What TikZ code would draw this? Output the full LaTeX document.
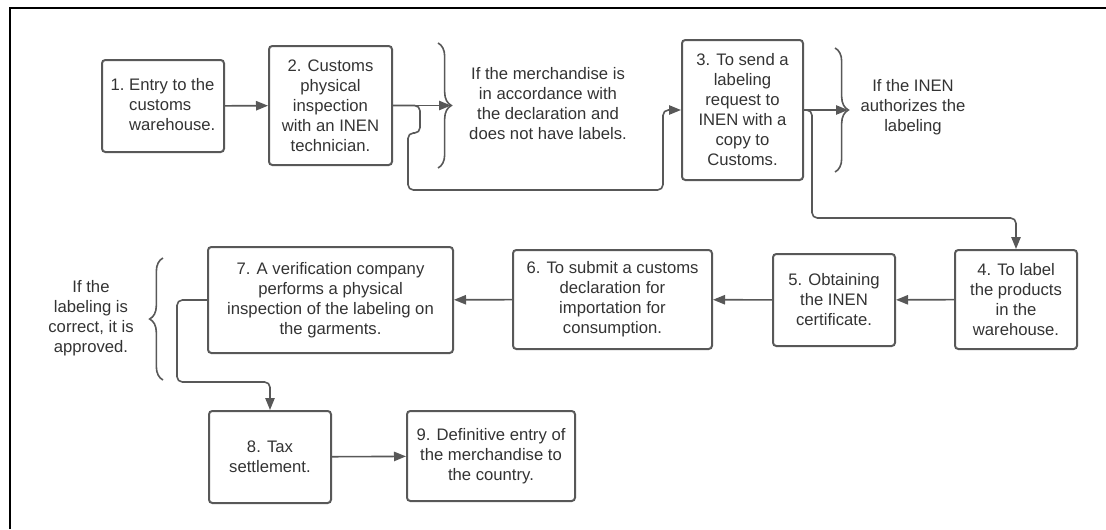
\documentclass[tikz,border=0pt]{standalone}
\usepackage{fontspec}
\setmainfont{Liberation Sans}
\usetikzlibrary{arrows.meta,decorations.pathreplacing}
\definecolor{boxcol}{RGB}{88,88,88}
\definecolor{txtcol}{RGB}{51,51,51}
\tikzset{box/.style={draw=boxcol,line width=1.5pt,rounded corners=2.5pt,align=center,inner sep=0pt,text=txtcol,font=\fontsize{12.5}{15}\selectfont}}
\tikzset{conn/.style={draw=boxcol,line width=1.2pt,rounded corners=4pt,-{Triangle[length=9pt,width=7pt]}}}
\tikzset{annot/.style={align=center,text=txtcol,font=\fontsize{12.5}{15}\selectfont}}
\tikzset{curly/.style={draw=boxcol,line width=1.2pt,decorate,decoration={brace,amplitude=10pt}}}

\begin{document}
\begin{tikzpicture}[x=0.75pt,y=-0.75pt]
\useasboundingbox (0,0) rectangle (1106,529);
\draw [line width=1.5pt] (10,529) -- (10,8) -- (1106,8);
% top row
\node [box,minimum width=91.5pt,minimum height=69pt] (b1) at (163,106) {\begin{tabular}{@{}l@{\ }l@{}}1.&Entry to the\\&customs\\&warehouse.\end{tabular}};
\node [box,minimum width=92.25pt,minimum height=89.25pt] (b2) at (330.5,105.5) {2. Customs\\physical\\inspection\\with an INEN\\technician.};
\node [box,minimum width=90.75pt,minimum height=105pt] (b3) at (742.5,110) {3. To send a\\labeling\\request to\\INEN with a\\copy to\\Customs.};
% middle row
\node [box,minimum width=91.5pt,minimum height=74.25pt] (b4) at (1016,299.5) {4. To label\\the products\\in the\\warehouse.};
\node [box,minimum width=91.5pt,minimum height=69pt] (b5) at (834,300) {5. Obtaining\\the INEN\\certificate.};
\node [box,minimum width=149.25pt,minimum height=74.25pt] (b6) at (612.5,299.5) {6. To submit a customs\\declaration for\\importation for\\consumption.};
\node [box,minimum width=183.75pt,minimum height=79.5pt] (b7) at (330.5,300) {7. A verification company\\performs a physical\\inspection of the labeling on\\the garments.};
% bottom row
\node [box,minimum width=91.5pt,minimum height=69pt] (b8) at (270,457) {8. Tax\\settlement.};
\node [box,minimum width=126pt,minimum height=67.5pt] (b9) at (491,456) {9. Definitive entry of\\the merchandise to\\the country.};
% braces and conditions
\draw [curly] (438,43) -- (438,168);
\draw [curly] (835,48) -- (835,172);
\draw [curly] (163,380) -- (163,258);
\coordinate (c1) at (451,105.5);
\coordinate (c2) at (848,110);
\node [annot] (t1) at (548,104) {If the merchandise is\\in accordance with\\the declaration and\\does not have labels.};
\node [annot] (t2) at (913,107) {If the INEN\\authorizes the\\labeling};
\node [annot] (t3) at (91,318) {If the\\labeling is\\correct, it is\\approved.};
% connectors
\draw [conn] (b1) -- (b2);
\draw [conn] (b2.east) -- (c1);
\draw [conn] (b2.east) -- (420,105.5) -- (420,133) -- (408,133) -- (408,190) -- (663,190) |- (b3.west);
\draw [conn] (b3.east) -- (c2);
\draw [conn] (b3.east) -- (812,110) -- (812,218) -| (b4.north);
\draw [conn] (b4) -- (b5);
\draw [conn] (b5) -- (b6);
\draw [conn] (b6) -- (b7);
\draw [conn] (b7.west) -| (177,382) -| (b8.north);
\draw [conn] (b8) -- (b9);
\end{tikzpicture}
\end{document}
